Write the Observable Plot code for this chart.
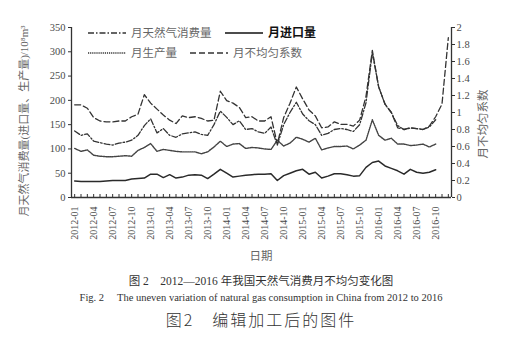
<!DOCTYPE html>
<html><head><meta charset="utf-8">
<script src="https://cdn.jsdelivr.net/npm/d3@7"></script>
<script src="https://cdn.jsdelivr.net/npm/@observablehq/plot@0.6"></script>
<style>
body{margin:0;background:#fff;}
#wrap{position:relative;width:522px;height:351px;overflow:hidden;font-family:"Liberation Serif","Noto Sans CJK SC",serif;color:#555;}
#wrap svg{display:block;}
.ov{position:absolute;left:0;top:0;pointer-events:none;}
.cap{position:absolute;left:0;width:522px;text-align:center;white-space:pre;color:#333;}
</style></head><body><div id="wrap"></div>
<script>
const months = ["2012-01","2012-02","2012-03","2012-04","2012-05","2012-06","2012-07","2012-08","2012-09","2012-10","2012-11","2012-12",
"2013-01","2013-02","2013-03","2013-04","2013-05","2013-06","2013-07","2013-08","2013-09","2013-10","2013-11","2013-12",
"2014-01","2014-02","2014-03","2014-04","2014-05","2014-06","2014-07","2014-08","2014-09","2014-10","2014-11","2014-12",
"2015-01","2015-02","2015-03","2015-04","2015-05","2015-06","2015-07","2015-08","2015-09","2015-10","2015-11","2015-12",
"2016-01","2016-02","2016-03","2016-04","2016-05","2016-06","2016-07","2016-08","2016-09","2016-10","2016-11","2016-12"];
const tickLabels = ["2012-01","2012-04","2012-07","2012-10","2013-01","2013-04","2013-07","2013-10","2014-01","2014-04","2014-07","2014-10",
"2015-01","2015-04","2015-07","2015-10","2016-01","2016-04","2016-07","2016-10"];
// 月天然气消费量 (10^8 m3)
const consumption = [137,128,131,116,113,110,108,112,114,118,128,148,
162,133,142,128,124,131,133,135,130,128,150,178,
165,150,158,140,142,135,132,145,108,150,175,196,
172,158,150,128,132,140,142,140,136,150,195,298,
228,192,175,148,140,143,142,140,145,160];
// 月生产量
const production = [101,95,98,87,85,84,84,85,86,85,97,103,
111,95,99,97,95,94,94,94,90,94,104,116,
105,110,111,101,103,102,100,99,118,106,112,124,
120,114,122,98,102,105,105,106,100,108,118,160,
128,118,122,110,110,107,108,110,104,110];
// 月进口量
const imports = [34,33,33,33,33,34,35,35,35,38,39,40,
48,48,41,47,40,42,46,47,46,39,48,58,
50,42,44,46,47,48,48,49,35,45,50,55,
58,48,52,40,44,49,49,47,44,45,62,72,
75,65,60,55,48,58,52,50,52,57];
// 月不均匀系数 (right axis)
const coefficient = [1.09,1.09,1.05,0.94,0.90,0.89,0.89,0.90,0.90,0.95,0.98,1.21,
1.11,1.04,0.97,0.91,0.87,0.96,0.94,0.95,0.93,0.90,0.91,1.25,
1.14,1.11,1.06,0.94,0.95,0.90,0.90,0.95,0.63,0.94,1.11,1.30,
1.16,1.03,0.96,0.82,0.83,0.89,0.86,0.86,0.84,0.91,1.19,1.73,
1.30,1.10,1.00,0.82,0.80,0.82,0.81,0.80,0.84,0.95,1.10,1.88];
const leftTicks = [0,50,100,150,200,250,300,350];
const rightTicks = [0,0.2,0.4,0.6,0.8,1,1.2,1.4,1.6,1.8,2];
const leftMax = 350, rightMax = 2;
const K = leftMax / rightMax;

const idx = months.map((m, i) => i);
const labelIdx = tickLabels.map(t => months.indexOf(t));
const rows = a => a.map((v, i) => ({i, v}));
const ink = "#333";

const chart = Plot.plot({
  width: 522, height: 262,
  marginLeft: 71, marginRight: 71, marginTop: 27, marginBottom: 65,
  x: {type: "linear", domain: [-0.5, months.length - 0.5]},
  y: {domain: [0, leftMax]},
  style: {fontFamily: '"Liberation Serif","Noto Sans CJK SC",serif', fontSize: "10px", color: "#4a4a4a", background: "transparent"},
  marks: [
    Plot.axisY({ticks: leftTicks, anchor: "left", tickSize: 3, tickPadding: 3, label: null, stroke: ink, fontSize: 10.5}),
    Plot.axisY({ticks: rightTicks.map(v => v * K), anchor: "right", tickSize: 3, tickPadding: 2, label: null, stroke: ink, fontSize: 10.5,
      tickFormat: v => String(Math.round(v / K * 10) / 10)}),
    Plot.axisX({ticks: idx, anchor: "bottom", tickSize: 3, dy: -3, tickFormat: () => "", label: null, stroke: ink}),
    Plot.axisX({ticks: labelIdx, anchor: "bottom", tickSize: 0, tickPadding: 9, tickRotate: -90, tickFormat: i => months[i], label: null}),
    Plot.ruleX([-0.5, months.length - 0.5], {stroke: ink, strokeWidth: 1.3}),
    Plot.ruleY([0], {stroke: ink, strokeWidth: 1.3}),
    Plot.line(rows(imports), {x: "i", y: "v", stroke: "#2a2a2a", strokeWidth: 1.5}),
    Plot.line(rows(production), {x: "i", y: "v", stroke: "#444", strokeWidth: 1.4, strokeDasharray: "1.2,0.9"}),
    Plot.line(rows(consumption), {x: "i", y: "v", stroke: ink, strokeWidth: 1.3, strokeDasharray: "6,2,1.5,2"}),
    Plot.line(rows(coefficient), {x: "i", y: d => d.v * K, stroke: ink, strokeWidth: 1.3, strokeDasharray: "6,3"})
  ]
});
const wrap = document.getElementById("wrap");
wrap.appendChild(chart);

// overlay: legend and axis titles
const ov = d3.select(wrap).append("svg").attr("class", "ov").attr("width", 522).attr("height", 351);
const cj = '"Liberation Serif","Noto Sans CJK SC",serif';
const legend = [
  {x: 88, y: 33, label: "月天然气消费量", dash: "6,2,1.5,2", w: 1.3, bold: false},
  {x: 225, y: 33, label: "月进口量", dash: null, w: 1.6, bold: true},
  {x: 88, y: 53, label: "月生产量", dash: "1.2,0.9", w: 1.4, bold: false},
  {x: 190, y: 53, label: "月不均匀系数", dash: "6,3", w: 1.3, bold: false}
];
legend.forEach(l => {
  ov.append("line").attr("x1", l.x).attr("x2", l.x + 38).attr("y1", l.y).attr("y2", l.y)
    .attr("stroke", l.bold ? "#111" : ink).attr("stroke-width", l.w).attr("stroke-dasharray", l.dash);
  ov.append("text").attr("x", l.x + 43).attr("y", l.y).attr("dy", "0.36em")
    .attr("font-family", cj).attr("font-size", l.bold ? 12 : 11.5).attr("font-weight", l.bold ? "bold" : "normal")
    .attr("fill", l.bold ? "#111" : "#666").text(l.label);
});
ov.append("text").attr("transform", "translate(24,121) rotate(-90)").attr("text-anchor", "middle").attr("dy", "0.35em")
  .attr("font-family", cj).attr("font-size", 11).attr("fill", "#666").text("月天然气消费量(进口量、生产量)/10⁸m³");
ov.append("text").attr("transform", "translate(483,124) rotate(-90)").attr("text-anchor", "middle").attr("dy", "0.35em")
  .attr("font-family", cj).attr("font-size", 11.5).attr("fill", "#666").text("月不均匀系数");
ov.append("text").attr("x", 261).attr("y", 256).attr("text-anchor", "middle").attr("dy", "0.35em")
  .attr("font-family", cj).attr("font-size", 11.5).attr("fill", "#666").text("日期");

function cap(top, size, text, extra) {
  const d = document.createElement("div");
  d.className = "cap";
  d.style.top = top + "px";
  d.style.fontSize = size + "px";
  d.style.lineHeight = size + "px";
  if (extra) Object.assign(d.style, extra);
  d.textContent = text;
  wrap.appendChild(d);
}
cap(276, 11.5, "图 2　2012—2016 年我国天然气消费月不均匀变化图");
cap(293, 10.5, "Fig. 2　 The uneven variation of natural gas consumption in China from 2012 to 2016");
cap(311, 16, "图2　编辑加工后的图件", {letterSpacing: "2px", fontFamily: '"Noto Sans CJK SC",sans-serif', fontWeight: "300"});
</script>
</body></html>
